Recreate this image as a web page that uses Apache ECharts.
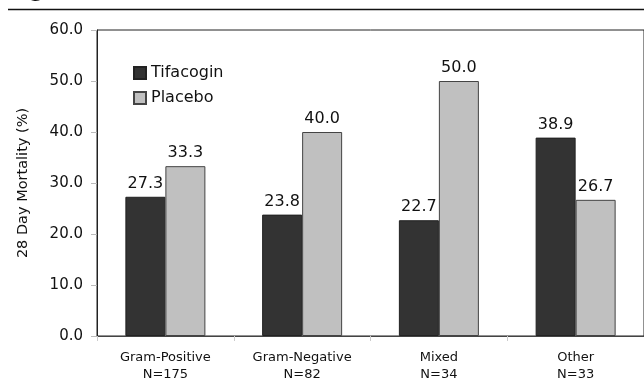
<!DOCTYPE html>
<html>
<head>
<meta charset="utf-8">
<script src="https://cdn.jsdelivr.net/npm/echarts@6/dist/echarts.min.js"></script>
<style>
  html, body { margin: 0; padding: 0; background: #fff; }
  #chart { width: 644px; height: 383px; }
</style>
</head>
<body>
<div id="chart"></div>
<script>
// Infection groups and their sizes
const groupNames = ['Gram-Positive', 'Gram-Negative', 'Mixed', 'Other'];
const groupSizes = [175, 82, 34, 33];

// 28-day mortality, percent
const tifacogin = [27.3, 23.8, 22.7, 38.9];
const placebo = [33.3, 40.0, 50.0, 26.7];

// Value axis range
const yMin = 0;
const yMax = 60;
const yStep = 10;

const FONT = 'DejaVu Sans';
const TEXT = '#111111';

const categories = groupNames.map((n, i) => n + '\nN=' + groupSizes[i]);

const chart = echarts.init(document.getElementById('chart'), null, { renderer: 'canvas' });

const valueLabel = {
  show: true,
  position: 'top',
  distance: 5,
  color: TEXT,
  fontFamily: FONT,
  fontSize: 16,
  formatter: p => Number(p.value).toFixed(1)
};

chart.setOption({
  animation: false,
  backgroundColor: '#ffffff',
  textStyle: { fontFamily: FONT, color: TEXT },
  grid: {
    left: 97,
    right: -1,
    top: 30,
    bottom: 45,
    show: true,
    borderColor: '#222222',
    borderWidth: 1,
    backgroundColor: 'transparent'
  },
  legend: {
    orient: 'vertical',
    left: 133,
    top: 65,
    padding: 0,
    itemWidth: 12,
    itemHeight: 12,
    itemGap: 9,
    icon: 'rect',
    textStyle: { fontFamily: FONT, fontSize: 16, color: TEXT },
    data: ['Tifacogin', 'Placebo']
  },
  xAxis: {
    type: 'category',
    data: categories,
    axisLine: { show: true, lineStyle: { color: '#444444', width: 1 } },
    axisTick: { show: true, alignWithLabel: false, length: 5, lineStyle: { color: '#cccccc' } },
    axisLabel: {
      color: TEXT,
      fontFamily: FONT,
      fontSize: 13,
      lineHeight: 17,
      margin: 13,
      interval: 0
    },
    splitLine: { show: false }
  },
  yAxis: {
    type: 'value',
    min: yMin,
    max: yMax,
    interval: yStep,
    name: '28 Day Mortality (%)',
    nameLocation: 'middle',
    nameGap: 66,
    nameRotate: 90,
    nameTextStyle: { fontFamily: FONT, fontSize: 14.5, color: TEXT },
    axisLine: { show: true, lineStyle: { color: '#222222', width: 1 } },
    axisTick: { show: true, inside: false, length: 6, lineStyle: { color: '#bbbbbb' } },
    axisLabel: {
      color: TEXT,
      fontFamily: FONT,
      fontSize: 15,
      margin: 14,
      formatter: v => v.toFixed(1)
    },
    splitLine: { show: false }
  },
  series: [
    {
      name: 'Tifacogin',
      type: 'bar',
      data: tifacogin,
      barWidth: 40,
      barGap: '0%',
      itemStyle: { color: '#333333', borderColor: '#222222', borderWidth: 1 },
      label: valueLabel
    },
    {
      name: 'Placebo',
      type: 'bar',
      data: placebo,
      barWidth: 40,
      barGap: '0%',
      itemStyle: { color: '#c0c0c0', borderColor: '#444444', borderWidth: 1 },
      label: valueLabel
    }
  ],
  graphic: [
    {
      type: 'line',
      shape: { x1: 8, y1: 9.5, x2: 644, y2: 9.5 },
      style: { stroke: '#111111', lineWidth: 1.5 },
      silent: true
    },
    {
      type: 'text',
      left: 29,
      top: -20,
      style: { text: 'g', fontFamily: FONT, fontWeight: 'bold', fontSize: 22, fill: '#111111' },
      silent: true
    }
  ]
});
</script>
</body>
</html>
